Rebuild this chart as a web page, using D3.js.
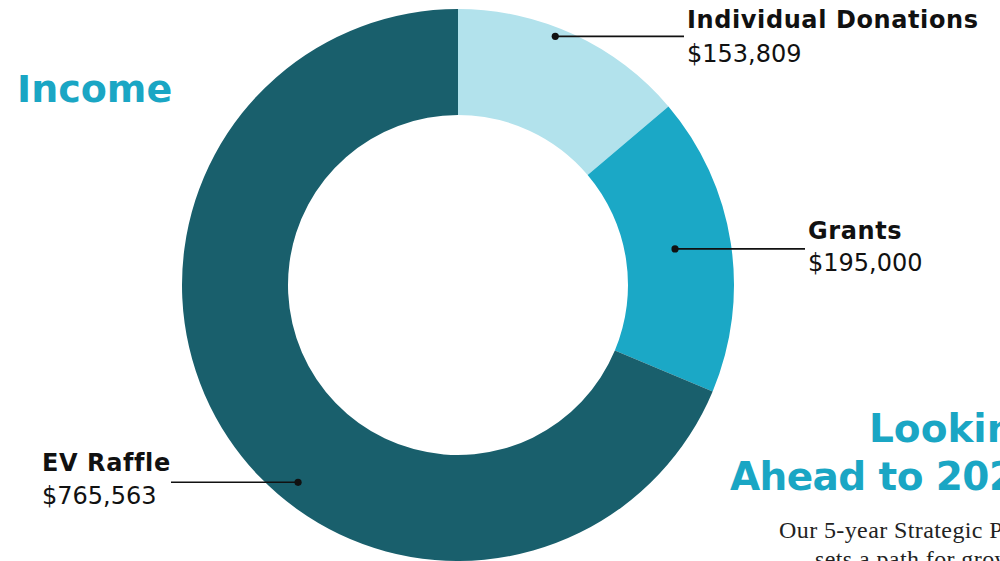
<!DOCTYPE html>
<html><head><meta charset="utf-8">
<script src="https://cdn.jsdelivr.net/npm/d3@7"></script>
<style>html,body{margin:0;padding:0;background:#fff;overflow:hidden}</style>
</head><body>
<svg id="c" width="1000" height="561"></svg>
<script>
const categories = ["Individual Donations", "Grants", "EV Raffle"];
const values = [153809, 195000, 765563];
const colors = ["#b2e2ec", "#1ba8c6", "#195f6c"];

const svg = d3.select("#c");
const cx = 458, cy = 285, rOuter = 276, rInner = 170;
const g = svg.append("g").attr("transform", `translate(${cx},${cy})`);

const pie = d3.pie().sort(null).value(d => d);
const arcs = pie(values);
const arc = d3.arc().innerRadius(rInner).outerRadius(rOuter);

g.selectAll("path").data(arcs).join("path")
  .attr("d", arc).attr("fill", (d, i) => colors[i]);

// label layout: dot polar position (fraction within slice, radius), leader end and text x
const layout = [
  {frac: 0.43, r: 267, lineTo: 684, textX: 687, nameDy: -8, valDy: 26},
  {frac: 0.49, r: 220, lineTo: 805, textX: 808, nameDy: -10, valDy: 22},
  {frac: 0.43, r: 254, lineTo: 171, textX: 42, nameDy: -11, valDy: 22}
];
const fmt = d3.format("$,");
const font = "'DejaVu Sans', sans-serif";

arcs.forEach((a, i) => {
  const L = layout[i];
  const ang = a.startAngle + (a.endAngle - a.startAngle) * L.frac;
  const px = cx + L.r * Math.sin(ang), py = cy - L.r * Math.cos(ang);
  svg.append("line").attr("x1", px).attr("y1", py).attr("x2", L.lineTo).attr("y2", py)
    .attr("stroke", "#111").attr("stroke-width", 1.6);
  svg.append("circle").attr("cx", px).attr("cy", py).attr("r", 3.6).attr("fill", "#111");
  svg.append("text").attr("x", L.textX).attr("y", py + L.nameDy)
    .attr("font-family", font).attr("font-weight", 600).attr("font-size", 24)
    .attr("letter-spacing", 0.6)
    .attr("fill", "#111").text(categories[i]);
  svg.append("text").attr("x", L.textX).attr("y", py + L.valDy)
    .attr("font-family", font).attr("font-weight", 400).attr("font-size", 24)
    .attr("fill", "#111").text(fmt(values[i]));
});

svg.append("text").attr("x", 17).attr("y", 102)
  .attr("font-family", font).attr("font-weight", 700).attr("font-size", 38)
  .attr("fill", "#1aa6c4").text("Income");

svg.append("text").attr("x", 869).attr("y", 442)
  .attr("font-family", font).attr("font-weight", 700).attr("font-size", 39)
  .attr("fill", "#1aa6c4").text("Looking");
svg.append("text").attr("x", 730).attr("y", 490)
  .attr("font-family", font).attr("font-weight", 700).attr("font-size", 39)
  .attr("letter-spacing", -0.6)
  .attr("fill", "#1aa6c4").text("Ahead to 2024");

svg.append("text").attr("x", 779).attr("y", 538)
  .attr("font-family", "'Liberation Serif', serif").attr("font-size", 24)
  .attr("letter-spacing", 0.4)
  .attr("fill", "#222").text("Our 5-year Strategic Plan");
svg.append("text").attr("x", 815).attr("y", 567)
  .attr("font-family", "'Liberation Serif', serif").attr("font-size", 24)
  .attr("letter-spacing", 0.4)
  .attr("fill", "#222").text("sets a path for growth");
</script>
</body></html>
